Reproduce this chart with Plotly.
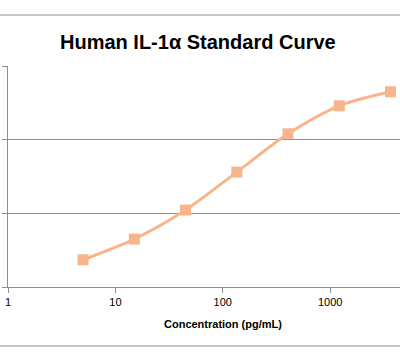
import plotly.graph_objects as go
import math

concentration = [5, 15, 45, 135, 405, 1215, 3645]
od_values = [0.37, 0.65, 1.045, 1.56, 2.08, 2.46, 2.65]
x_tick_vals = [1, 10, 100, 1000, 10000]
x_tick_text = ["1", "10", "100", "1000", "10000"]
title_text = "Human IL-1α Standard Curve"
x_title = "Concentration (pg/mL)"

line_color = "#F8B48B"
grid_color = "#8E8E8E"

fig = go.Figure()
fig.add_trace(go.Scatter(
    x=concentration, y=od_values, mode="lines+markers",
    line=dict(color=line_color, width=3, shape="spline", smoothing=0.8),
    marker=dict(symbol="square", size=11, color=line_color),
    showlegend=False, hoverinfo="skip"))

fig.update_layout(
    width=400, height=362,
    margin=dict(l=8, r=0, t=66, b=75),
    paper_bgcolor="white", plot_bgcolor="white",
    font=dict(family="Liberation Sans, Arial, sans-serif", color="#000000"),
    xaxis=dict(type="log", range=[0, math.log10(4467)],
               tickvals=x_tick_vals, ticktext=x_tick_text,
               showgrid=False, showline=True, linecolor=grid_color, linewidth=1,
               ticks="outside", ticklen=5, tickcolor=grid_color,
               tickfont=dict(size=11, color="#000000"), zeroline=False),
    yaxis=dict(range=[0, 3], tickvals=[0, 1, 2, 3], showticklabels=False,
               showgrid=True, gridcolor=grid_color, gridwidth=1,
               showline=True, linecolor=grid_color, linewidth=1,
               ticks="outside", ticklen=5, tickcolor=grid_color, zeroline=False),
    showlegend=False,
)

fig.add_annotation(text="<b>" + title_text + "</b>", xref="paper", yref="paper",
                   x=(198 - 8) / 392, y=(287 - 42) / 221, showarrow=False,
                   xanchor="center", yanchor="middle",
                   font=dict(size=20, color="#000000"))
fig.add_annotation(text="<b>" + x_title + "</b>", xref="paper", yref="paper",
                   x=(223 - 8) / 392, y=(287 - 324) / 221, showarrow=False,
                   xanchor="center", yanchor="middle",
                   font=dict(size=11, color="#000000"))

for ypix in [15, 346]:
    fig.add_shape(type="line", xref="paper", yref="paper",
                  x0=-8 / 392, x1=1, y0=(287 - ypix) / 221, y1=(287 - ypix) / 221,
                  line=dict(color=grid_color, width=1))

fig.write_html("out.html", config={"displayModeBar": False},
               post_script="document.body.style.margin='0';document.body.style.overflow='hidden';")
